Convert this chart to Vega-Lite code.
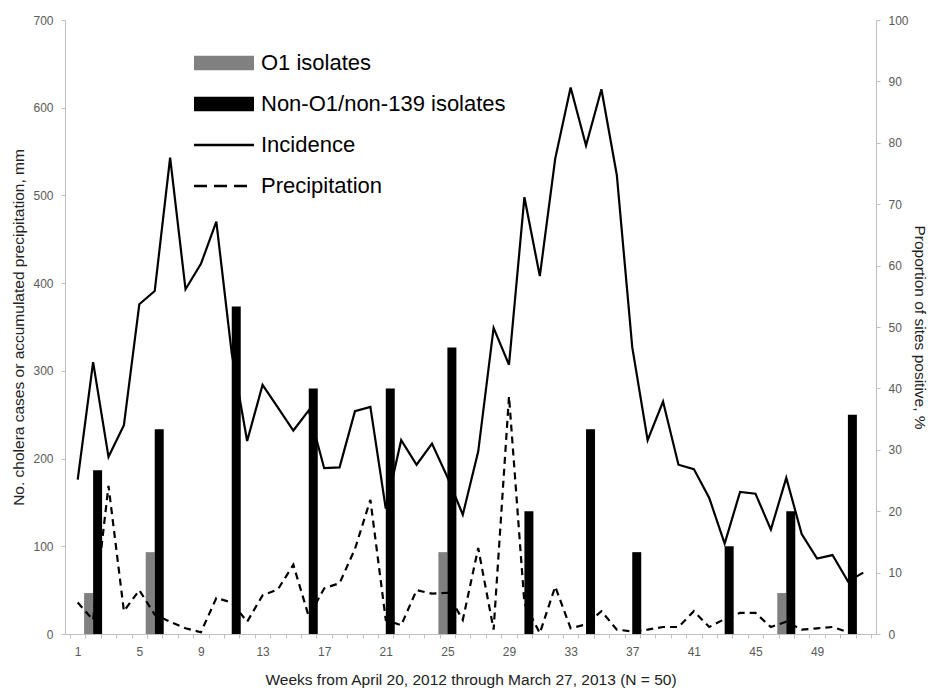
{
  "$schema": "https://vega.github.io/schema/vega-lite/v6.json",
  "width": 811,
  "height": 614,
  "autosize": "none",
  "padding": {"left": 65, "top": 20, "right": 52, "bottom": 54},
  "background": "white",
  "config": {
    "view": {"stroke": null},
    "font": "Liberation Sans",
    "axis": {
      "domainColor": "#bfbfbf",
      "tickColor": "#bfbfbf",
      "labelColor": "#595959",
      "labelFont": "Liberation Sans",
      "labelFontSize": 12,
      "titleFont": "Liberation Sans",
      "titleFontWeight": "normal",
      "titleColor": "#222222",
      "titleFontSize": 15.5,
      "grid": false,
      "tickSize": 4
    }
  },
  "datasets": {
    "weekly": [
      {"week": 1, "incidence": 176, "precipitation": 36},
      {"week": 2, "incidence": 310, "precipitation": 16},
      {"week": 3, "incidence": 202, "precipitation": 169},
      {"week": 4, "incidence": 238, "precipitation": 26},
      {"week": 5, "incidence": 376, "precipitation": 50},
      {"week": 6, "incidence": 391, "precipitation": 22},
      {"week": 7, "incidence": 543, "precipitation": 14},
      {"week": 8, "incidence": 393, "precipitation": 6.5},
      {"week": 9, "incidence": 422, "precipitation": 2},
      {"week": 10, "incidence": 470, "precipitation": 41},
      {"week": 11, "incidence": 320, "precipitation": 36},
      {"week": 12, "incidence": 220, "precipitation": 14},
      {"week": 13, "incidence": 284, "precipitation": 44},
      {"week": 14, "incidence": 258, "precipitation": 51},
      {"week": 15, "incidence": 232, "precipitation": 79},
      {"week": 16, "incidence": 255, "precipitation": 20},
      {"week": 17, "incidence": 189, "precipitation": 52},
      {"week": 18, "incidence": 190, "precipitation": 58},
      {"week": 19, "incidence": 254, "precipitation": 97},
      {"week": 20, "incidence": 259, "precipitation": 153},
      {"week": 21, "incidence": 143, "precipitation": 16},
      {"week": 22, "incidence": 221, "precipitation": 10},
      {"week": 23, "incidence": 193, "precipitation": 50},
      {"week": 24, "incidence": 217, "precipitation": 46},
      {"week": 25, "incidence": 179, "precipitation": 47},
      {"week": 26, "incidence": 136, "precipitation": 16},
      {"week": 27, "incidence": 208, "precipitation": 98},
      {"week": 28, "incidence": 349, "precipitation": 5},
      {"week": 29, "incidence": 307, "precipitation": 271},
      {"week": 30, "incidence": 498, "precipitation": 35},
      {"week": 31, "incidence": 408, "precipitation": 1},
      {"week": 32, "incidence": 542, "precipitation": 54},
      {"week": 33, "incidence": 623, "precipitation": 6.5},
      {"week": 34, "incidence": 557, "precipitation": 11},
      {"week": 35, "incidence": 621, "precipitation": 26},
      {"week": 36, "incidence": 523, "precipitation": 5},
      {"week": 37, "incidence": 327, "precipitation": 3},
      {"week": 38, "incidence": 221, "precipitation": 5},
      {"week": 39, "incidence": 265, "precipitation": 8},
      {"week": 40, "incidence": 193, "precipitation": 8},
      {"week": 41, "incidence": 188, "precipitation": 26},
      {"week": 42, "incidence": 155, "precipitation": 8},
      {"week": 43, "incidence": 103, "precipitation": 17},
      {"week": 44, "incidence": 162, "precipitation": 24},
      {"week": 45, "incidence": 160, "precipitation": 24},
      {"week": 46, "incidence": 119, "precipitation": 8},
      {"week": 47, "incidence": 178, "precipitation": 14},
      {"week": 48, "incidence": 114, "precipitation": 5},
      {"week": 49, "incidence": 86, "precipitation": 6.5},
      {"week": 50, "incidence": 90, "precipitation": 8},
      {"week": 51, "incidence": 60, "precipitation": 2},
      {"week": 52, "incidence": 70, "precipitation": null}
    ],
    "isolates": [
      {"week": 2, "series": "O1 isolates", "pct": 6.67},
      {"week": 6, "series": "O1 isolates", "pct": 13.33},
      {"week": 25, "series": "O1 isolates", "pct": 13.33},
      {"week": 47, "series": "O1 isolates", "pct": 6.67},
      {"week": 2, "series": "Non-O1/non-139 isolates", "pct": 26.67},
      {"week": 6, "series": "Non-O1/non-139 isolates", "pct": 33.33},
      {"week": 11, "series": "Non-O1/non-139 isolates", "pct": 53.33},
      {"week": 16, "series": "Non-O1/non-139 isolates", "pct": 40},
      {"week": 21, "series": "Non-O1/non-139 isolates", "pct": 40},
      {"week": 25, "series": "Non-O1/non-139 isolates", "pct": 46.67},
      {"week": 30, "series": "Non-O1/non-139 isolates", "pct": 20},
      {"week": 34, "series": "Non-O1/non-139 isolates", "pct": 33.33},
      {"week": 37, "series": "Non-O1/non-139 isolates", "pct": 13.33},
      {"week": 43, "series": "Non-O1/non-139 isolates", "pct": 14.29},
      {"week": 47, "series": "Non-O1/non-139 isolates", "pct": 20},
      {"week": 51, "series": "Non-O1/non-139 isolates", "pct": 35.71}
    ]
  },
  "resolve": {"scale": {"y": "independent"}, "axis": {"x": "independent"}},
  "layer": [
    {
      "data": {"name": "isolates"},
      "transform": [{"filter": "datum.series === 'O1 isolates'"}],
      "mark": {"type": "bar", "width": 9, "xOffset": -4.5},
      "encoding": {
        "x": {
          "field": "week", "type": "quantitative",
          "scale": {"domain": [0.5, 52.5], "nice": false, "zero": false},
          "axis": {
            "orient": "bottom",
            "values": [0.5,1.5,2.5,3.5,4.5,5.5,6.5,7.5,8.5,9.5,10.5,11.5,12.5,13.5,14.5,15.5,16.5,17.5,18.5,19.5,20.5,21.5,22.5,23.5,24.5,25.5,26.5,27.5,28.5,29.5,30.5,31.5,32.5,33.5,34.5,35.5,36.5,37.5,38.5,39.5,40.5,41.5,42.5,43.5,44.5,45.5,46.5,47.5,48.5,49.5,50.5,51.5,52.5],
            "labels": false, "title": null, "domain": true, "ticks": true
          }
        },
        "y": {
          "field": "pct", "type": "quantitative",
          "scale": {"domain": [0, 100], "nice": false},
          "axis": {
            "orient": "right",
            "values": [0,10,20,30,40,50,60,70,80,90,100],
            "title": "Proportion of sites positive, %",
            "labelPadding": 8,
            "titlePadding": 3
          }
        },
        "color": {
          "field": "series", "type": "nominal",
          "scale": {
            "domain": ["O1 isolates", "Non-O1/non-139 isolates", "Incidence", "Precipitation"],
            "range": ["#808080", "#000000", "#000000", "#000000"]
          },
          "legend": {
            "title": null,
            "orient": "none",
            "legendX": 128,
            "legendY": 32,
            "padding": 0,
            "symbolSize": 400,
            "rowPadding": 19,
            "labelOffset": 46,
            "labelFont": "Liberation Sans",
            "labelFontSize": 22,
            "labelColor": "#000000",
            "labelLimit": 400,
            "encode": {
              "symbols": {
                "update": {
                  "shape": {"signal": "(datum.value === 'Incidence' || datum.value === 'Precipitation') ? 'M-1,0H5' : 'M-1,-0.72H5V0.72H-1Z'"},
                  "fill": {"signal": "(datum.value === 'Incidence' || datum.value === 'Precipitation') ? 'transparent' : (datum.value === 'O1 isolates' ? '#808080' : '#000000')"},
                  "stroke": {"signal": "(datum.value === 'Incidence' || datum.value === 'Precipitation') ? '#000000' : 'transparent'"},
                  "strokeWidth": {"signal": "(datum.value === 'Incidence' || datum.value === 'Precipitation') ? 2.6 : 0"},
                  "strokeDash": {"signal": "datum.value === 'Precipitation' ? [13, 7] : [1, 0]"},
                  "opacity": {"value": 1}
                }
              }
            }
          }
        }
      }
    },
    {
      "data": {"name": "isolates"},
      "transform": [{"filter": "datum.series === 'Non-O1/non-139 isolates'"}],
      "mark": {"type": "bar", "width": 9, "xOffset": 4.5},
      "encoding": {
        "x": {"field": "week", "type": "quantitative", "axis": null},
        "y": {"field": "pct", "type": "quantitative", "scale": {"domain": [0, 100], "nice": false}, "axis": null},
        "color": {"field": "series", "type": "nominal"}
      }
    },
    {
      "data": {"name": "weekly"},
      "mark": {"type": "line", "strokeWidth": 2.2, "strokeJoin": "miter"},
      "encoding": {
        "x": {
          "field": "week", "type": "quantitative",
          "axis": {
            "orient": "bottom",
            "values": [1,5,9,13,17,21,25,29,33,37,41,45,49],
            "ticks": false, "domain": false, "labelFlush": false,
            "labelPadding": 12,
            "title": "Weeks from April 20, 2012 through March 27, 2013 (N = 50)",
            "titlePadding": 15
          }
        },
        "y": {
          "field": "incidence", "type": "quantitative",
          "scale": {"domain": [0, 700], "nice": false},
          "axis": {
            "orient": "left",
            "values": [0,100,200,300,400,500,600,700],
            "title": "No. cholera cases or accumulated precipitation, mm",
            "labelPadding": 8,
            "titlePadding": 6
          }
        },
        "color": {"datum": "Incidence"}
      }
    },
    {
      "data": {"name": "weekly"},
      "mark": {"type": "line", "strokeWidth": 2.2, "strokeDash": [7, 5]},
      "encoding": {
        "x": {"field": "week", "type": "quantitative", "axis": null},
        "y": {"field": "precipitation", "type": "quantitative", "scale": {"domain": [0, 700], "nice": false}, "axis": null},
        "color": {"datum": "Precipitation"}
      }
    }
  ]
}
